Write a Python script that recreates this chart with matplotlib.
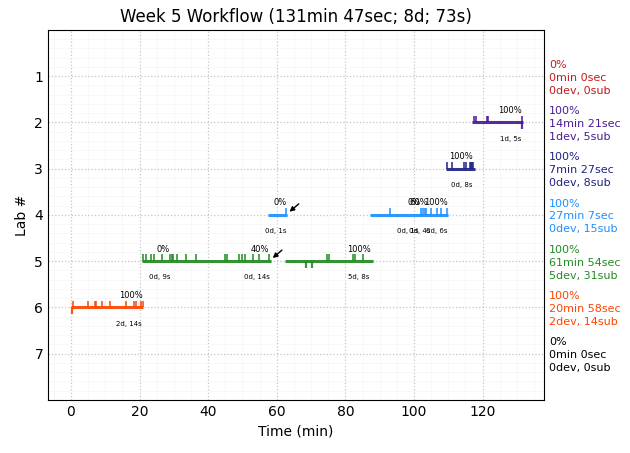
import matplotlib
matplotlib.use("Agg")
import matplotlib.pyplot as plt
from matplotlib.ticker import MultipleLocator

# one row per lab, top to bottom
labs = [1, 2, 3, 4, 5, 6, 7]
colors = ['#c41a1a', '#4b1a96', '#1f2385', 'dodgerblue', 'forestgreen', 'orangered', 'black']
side_pct = ['0%', '100%', '100%', '100%', '100%', '100%', '0%']
side_time = ['0min 0sec', '14min 21sec', '7min 27sec', '27min 7sec', '61min 54sec', '20min 58sec', '0min 0sec']
side_subs = ['0dev, 0sub', '1dev, 5sub', '0dev, 8sub', '0dev, 15sub', '5dev, 31sub', '2dev, 14sub', '0dev, 0sub']

# working sessions (lab, start, end)
sessions = [
    (2, 117.0, 131.7),
    (3, 109.3, 117.7),
    (4, 57.5, 63.0),
    (4, 87.2, 110.0),
    (5, 20.8, 58.3),
    (5, 62.4, 88.0),
    (6, 0.0, 21.0),
]

# submissions: above the line = ok, below the line = failed
ok_subs = {
    2: [117.4, 118.0, 121.3, 121.5, 131.5],
    3: [109.7, 111.0, 114.7, 115.2, 116.2, 116.5, 116.9, 117.2],
    4: [62.8, 93.0, 102.0, 102.5, 103.1, 103.5, 105.0, 106.6, 108.0, 109.7],
    5: [21.0, 22.0, 23.2, 24.2, 26.6, 29.0, 29.4, 29.8, 30.8, 33.6, 36.4,
        45.0, 45.6, 49.1, 49.8, 50.7, 53.2, 54.9, 57.8,
        74.7, 75.2, 82.1, 82.7, 85.0],
    6: [0.7, 5.05, 7.0, 7.4, 9.1, 11.5, 16.0, 18.4, 19.0, 20.3, 20.9],
}
bad_subs = {
    2: [131.5],
    5: [68.5, 70.3],
    6: [0.2],
}

# labels per session
pct_labels = [
    (2, 128.1, '100%'), (3, 113.7, '100%'), (4, 61.0, '0%'),
    (4, 100.0, '0%'), (4, 101.5, '60%'), (4, 106.4, '100%'),
    (5, 27.0, '0%'), (5, 55.0, '40%'), (5, 84.0, '100%'), (6, 17.5, '100%'),
]
dur_labels = [
    (2, 128.3, '1d, 5s'), (3, 114.0, '0d, 8s'), (4, 59.7, '0d, 1s'),
    (4, 98.3, '0d, 1s'), (4, 101.8, '0d, 4s'), (4, 106.7, '0d, 6s'),
    (5, 26.0, '0d, 9s'), (5, 54.3, '0d, 14s'), (5, 84.0, '5d, 8s'), (6, 17.0, '2d, 14s'),
]
# breaks marked with an arrow (tip x, tip y, tail x, tail y)
arrows = [(63.7, 3.93, 66.4, 3.76), (58.8, 4.93, 61.5, 4.76)]

fig, ax = plt.subplots(figsize=(6.3, 4.53), dpi=100)
fig.subplots_adjust(left=0.0762, right=0.8635, top=0.9338, bottom=0.1170)

for lab, start, end in sessions:
    ax.plot([start, end], [lab, lab], color=colors[lab - 1], lw=2.2, alpha=0.92,
            solid_capstyle='butt', zorder=3)
for lab, xs in ok_subs.items():
    ax.vlines(xs, lab - 0.15, lab, color=colors[lab - 1], lw=1.3, alpha=0.85, zorder=3)
for lab, xs in bad_subs.items():
    ax.vlines(xs, lab, lab + 0.15, color=colors[lab - 1], lw=1.6, alpha=0.9, zorder=3)

for lab, x, txt in pct_labels:
    ax.text(x, lab - 0.26, txt, fontsize=6, ha='center', va='center')
for lab, x, txt in dur_labels:
    ax.text(x, lab + 0.35, txt, fontsize=5, ha='center', va='center')
for tx, ty, sx, sy in arrows:
    ax.annotate('', xy=(tx, ty), xytext=(sx, sy),
                arrowprops=dict(arrowstyle='-|>', color='black', lw=1, mutation_scale=7,
                                shrinkA=0, shrinkB=0))

for i, lab in enumerate(labs):
    ax.annotate(f'{side_pct[i]}\n{side_time[i]}\n{side_subs[i]}', xy=(1.01, lab + 0.03),
                xycoords=('axes fraction', 'data'), color=colors[i], fontsize=8,
                ha='left', va='center', linespacing=1.36)

ax.set_xlim(-6.7, 137.9)
ax.set_ylim(8, 0)
ax.set_yticks(labs)
ax.xaxis.set_major_locator(MultipleLocator(20))
ax.xaxis.set_minor_locator(MultipleLocator(5))
ax.yaxis.set_minor_locator(MultipleLocator(0.2))
ax.tick_params(which='both', length=0)
ax.grid(True, which='major', color='#c4c4c4', linestyle=':', lw=0.9)
ax.grid(True, which='minor', color='#f5f5f5', linestyle='-', lw=0.5)
ax.set_axisbelow(True)

ax.set_title('Week 5 Workflow (131min 47sec; 8d; 73s)')
ax.set_xlabel('Time (min)')
ax.set_ylabel('Lab #')
fig.savefig('out.png', dpi=100)
